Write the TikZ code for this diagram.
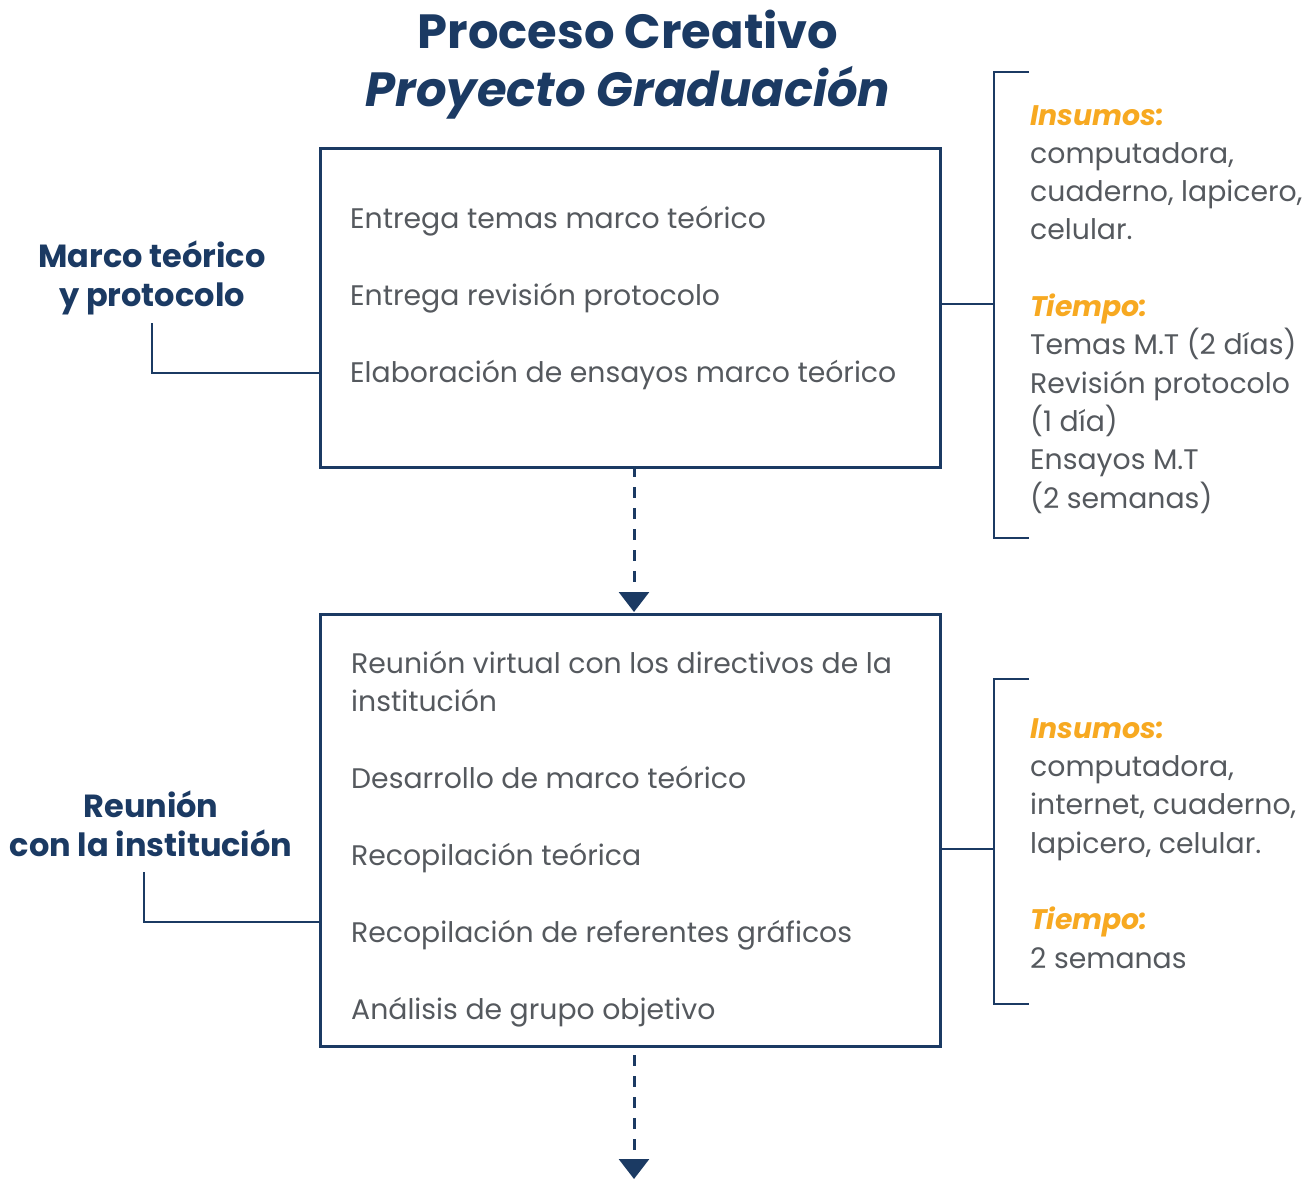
\documentclass[tikz,border=0pt]{standalone}
\usepackage{fontspec}
\setmainfont{Poppins}
\usetikzlibrary{arrows.meta,calc}
\definecolor{navy}{RGB}{27,58,99}
\definecolor{amber}{RGB}{247,169,33}
\definecolor{ink}{RGB}{85,89,94}
\begin{document}
\begin{tikzpicture}[x=1pt,y=-1pt,
  frame/.style={draw=navy,line width=2.8pt},
  link/.style={draw=navy,line width=2.8pt},
  flow/.style={draw=navy,line width=3pt,dash pattern=on 11pt off 10pt,
    -{Triangle[length=20pt,width=30pt]}},
  title/.style={anchor=base,text=navy,font=\fontsize{48}{58}\selectfont\bfseries,inner sep=0pt},
  phase/.style={anchor=base,text=navy,align=center,font=\fontsize{32}{39}\selectfont\bfseries,inner sep=0pt},
  item/.style={anchor=base west,text=ink,font=\fontsize{28.3}{38}\selectfont,inner sep=0pt},
  note/.style={anchor=base west,text=ink,align=left,font=\fontsize{28.3}{38.3}\selectfont,inner sep=0pt}
]
\useasboundingbox (0,0) rectangle (1307,1179);

% heading
\node[title] (t1) at (628,48) {Proceso Creativo};
\node[title,font=\fontsize{48}{58}\selectfont\bfseries\itshape] (t2) at (628,106) {Proyecto Graduación};

% first stage
\node[frame,minimum width=620pt,minimum height=319pt,anchor=north west] (b1) at (319,147) {};
\node[item] (i11) at (350,228) {Entrega temas marco teórico};
\node[item] (i12) at (350,305) {Entrega revisión protocolo};
\node[item] (i13) at (350,382) {Elaboración de ensayos marco teórico};

% (multi-line nodes are anchored on their last baseline)
\node[phase] (p1) at (152,306) {Marco teórico\\y protocolo};
\coordinate (p1a) at (152,323);
\draw[link] (p1a) |- (b1.west |- 0,373);

\coordinate (r1) at (994,304);
\draw[link] (b1.east |- r1) -- (r1);
\coordinate (r1t) at (1029,72);
\coordinate (r1b) at (1029,538);
\draw[link] (r1t) -| (994,538) -- (r1b);
\node[note] (n1) at (1030,508) {{\color{amber}\bfseries\itshape Insumos:}\\computadora,\\cuaderno, lapicero,\\celular.\\[38.3pt]{\color{amber}\bfseries\itshape Tiempo:}\\Temas M.T (2 días)\\Revisión protocolo\\(1 día)\\Ensayos M.T\\(2 semanas)};

% second stage
\node[frame,minimum width=620pt,minimum height=432pt,anchor=north west] (b2) at (319,613) {};
\coordinate (a1s) at (634,466);
\coordinate (a1e) at (634,612);
\draw[flow] (a1s) -- (a1e);
\node[item] (i21) at (351,673) {Reunión virtual con los directivos de la};
\node[item] (i22) at (351,711) {institución};
\node[item] (i23) at (351,788) {Desarrollo de marco teórico};
\node[item] (i24) at (351,865) {Recopilación teórica};
\node[item] (i25) at (351,942) {Recopilación de referentes gráficos};
\node[item] (i26) at (351,1019) {Análisis de grupo objetivo};

\node[phase] (p2) at (151,856) {Reunión\\con la institución};
\coordinate (p2a) at (144,872);
\draw[link] (p2a) |- (b2.west |- 0,922);

\coordinate (r2) at (994,849);
\draw[link] (b2.east |- r2) -- (r2);
\coordinate (r2t) at (1029,679);
\coordinate (r2b) at (1029,1004);
\draw[link] (r2t) -| (994,1004) -- (r2b);
\node[note] (n2) at (1030,968) {{\color{amber}\bfseries\itshape Insumos:}\\computadora,\\internet, cuaderno,\\lapicero, celular.\\[38.3pt]{\color{amber}\bfseries\itshape Tiempo:}\\2 semanas};

% continuation
\coordinate (a2s) at (634,1055);
\coordinate (a2e) at (634,1179);
\draw[flow] (a2s) -- (a2e);
\end{tikzpicture}
\end{document}
